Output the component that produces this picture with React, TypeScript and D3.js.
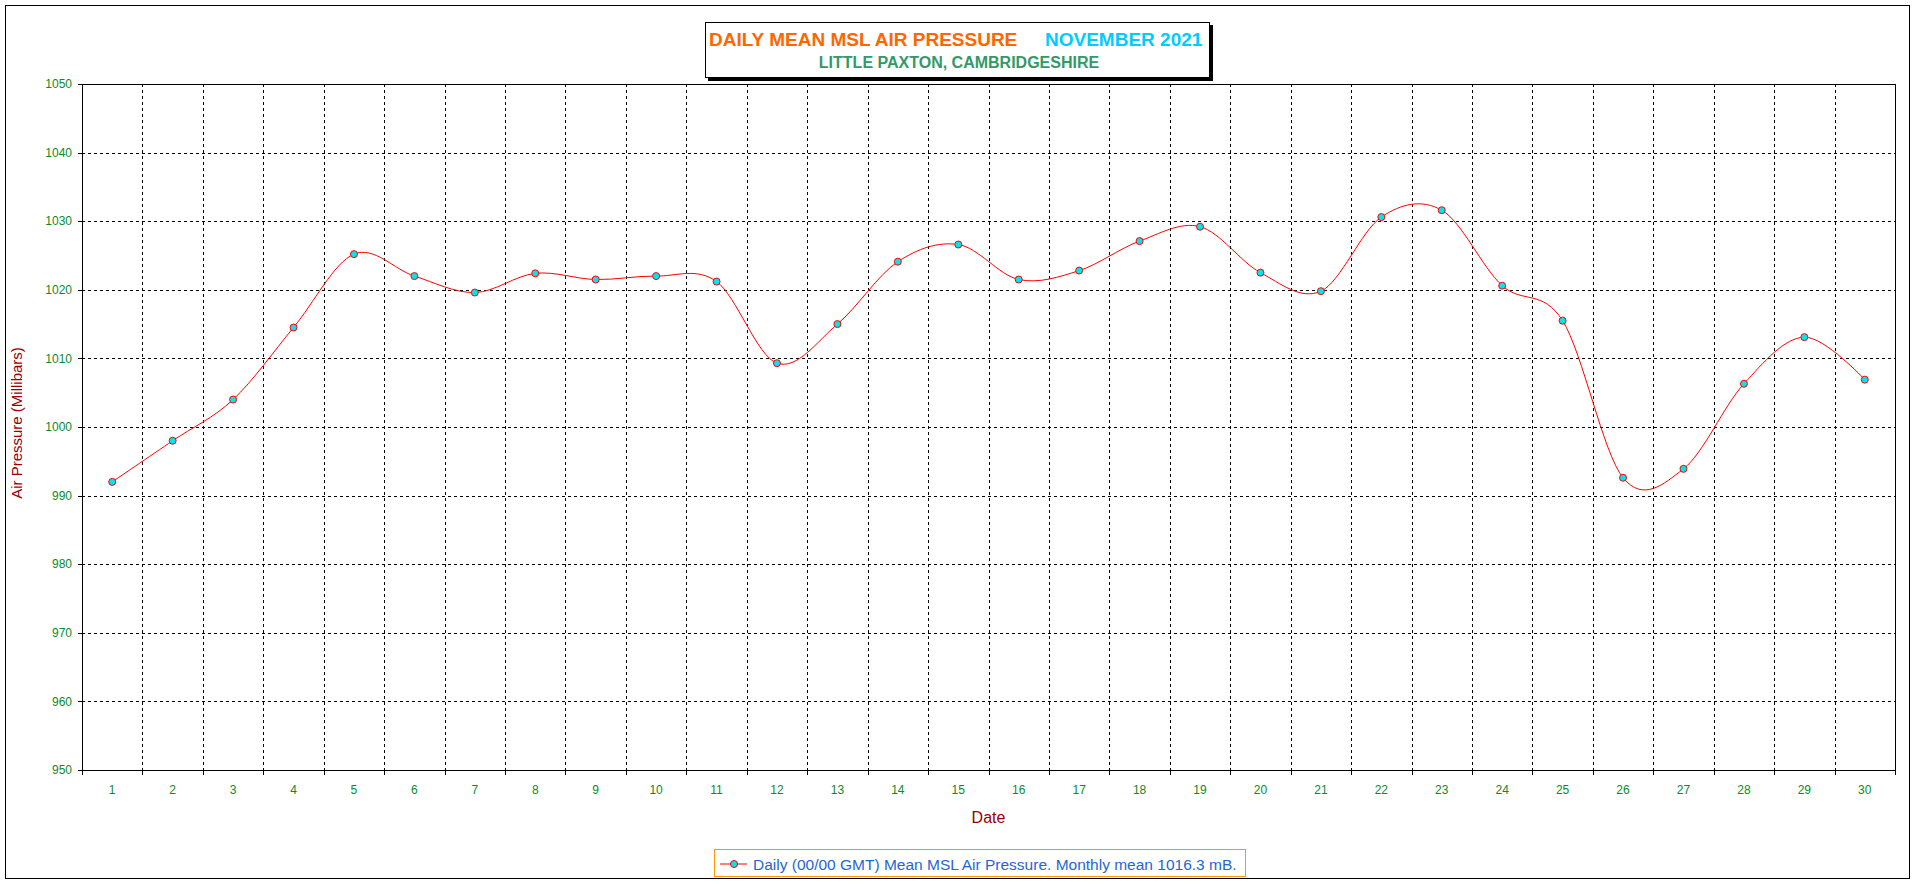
import React from "react";
import * as d3 from "d3";

const days: number[] = Array.from({ length: 30 }, (_, i) => i + 1);
const pressure: number[] = [
  992.0, 998.0, 1004.0, 1014.5, 1025.2, 1022.0, 1019.6, 1022.4, 1021.5, 1022.0,
  1021.2, 1009.3, 1015.0, 1024.1, 1026.6, 1021.5, 1022.8, 1027.1, 1029.2, 1022.5,
  1019.8, 1030.6, 1031.6, 1020.6, 1015.5, 992.6, 993.9, 1006.3, 1013.1, 1006.9,
];
const yTicks: number[] = [950, 960, 970, 980, 990, 1000, 1010, 1020, 1030, 1040, 1050];
const titleMain = "DAILY MEAN MSL AIR PRESSURE";
const titleMonth = "NOVEMBER 2021";
const subtitle = "LITTLE PAXTON, CAMBRIDGESHIRE";
const xTitle = "Date";
const yTitle = "Air Pressure (Millibars)";
const legendText = "Daily (00/00 GMT) Mean MSL Air Pressure. Monthly mean 1016.3 mB.";

const W = 1916;
const H = 884;
const PL = 82;
const PR = 1895;
const PT = 84;
const PB = 770;
const FONT = "Arial, 'Liberation Sans', sans-serif";
const TICK_COLOR = "#0a8a2a";
const AXIS_TITLE_COLOR = "#990000";

export default function App() {
  const x = d3.scaleLinear().domain([0.5, 30.5]).range([PL, PR]);
  const y = d3.scaleLinear().domain([950, 1050]).range([PB, PT]);
  const line = d3
    .line<number>()
    .x((_, i) => x(days[i]))
    .y((d) => y(d))
    .curve(d3.curveCatmullRom.alpha(0));
  const bounds = d3.range(1, 30).map((i) => i + 0.5);

  return (
    <svg
      width={W}
      height={H}
      style={{ position: "absolute", left: 0, top: 0, background: "#fff" }}
      fontFamily={FONT}
    >
      <rect x={0} y={0} width={W} height={H} fill="#fff" />
      <rect x={5.5} y={5.5} width={1904} height={873} fill="none" stroke="#000" strokeWidth={1} />

      {/* grid */}
      {yTicks
        .filter((t) => t !== 950 && t !== 1050)
        .map((t) => (
          <line
            key={"hg" + t}
            x1={PL}
            x2={PR}
            y1={Math.round(y(t)) + 0.5}
            y2={Math.round(y(t)) + 0.5}
            stroke="#000"
            strokeDasharray="3,3"
          />
        ))}
      {bounds.map((b) => (
        <line
          key={"vg" + b}
          x1={Math.round(x(b)) + 0.5}
          x2={Math.round(x(b)) + 0.5}
          y1={PT}
          y2={PB}
          stroke="#000"
          strokeDasharray="3,3"
        />
      ))}
      {/* plot border */}
      <rect x={PL + 0.5} y={PT + 0.5} width={PR - PL} height={PB - PT} fill="none" stroke="#000" strokeWidth={1} />

      {/* y ticks */}
      {yTicks.map((t) => (
        <g key={"yt" + t}>
          <line x1={PL - 4} x2={PL} y1={Math.round(y(t)) + 0.5} y2={Math.round(y(t)) + 0.5} stroke="#000" />
          <text x={PL - 10} y={y(t)} dy="0.35em" textAnchor="end" fontSize={12} fill={TICK_COLOR}>
            {t}
          </text>
        </g>
      ))}
      {/* x ticks */}
      {[0.5, ...bounds, 30.5].map((b) => (
        <line
          key={"xt" + b}
          x1={Math.round(x(b)) + 0.5}
          x2={Math.round(x(b)) + 0.5}
          y1={PB}
          y2={PB + 5}
          stroke="#000"
        />
      ))}
      {days.map((d) => (
        <text key={"xl" + d} x={x(d)} y={794} textAnchor="middle" fontSize={12} fill={TICK_COLOR}>
          {d}
        </text>
      ))}

      {/* axis titles */}
      <text x={(PL + PR) / 2} y={823} textAnchor="middle" fontSize={16} fill={AXIS_TITLE_COLOR}>
        {xTitle}
      </text>
      <text
        transform={`translate(22, 423) rotate(-90)`}
        textAnchor="middle"
        fontSize={15}
        fill={AXIS_TITLE_COLOR}
      >
        {yTitle}
      </text>

      {/* series */}
      <path d={line(pressure) || ""} fill="none" stroke="#ff0000" strokeWidth={1} />
      {pressure.map((v, i) => (
        <circle key={"pt" + i} cx={x(days[i])} cy={y(v)} r={3.5} fill="#00e5ee" stroke="#ff0000" strokeWidth={1} />
      ))}

      {/* title box */}
      <rect x={708} y={25} width={505} height={56} fill="#000" />
      <rect x={705.5} y={22.5} width={504} height={55} fill="#fff" stroke="#000" strokeWidth={1} />
      <text x={709} y={46} fontSize={19} fontWeight="bold" fill="#ff6600">
        {titleMain}
      </text>
      <text x={1045} y={46} fontSize={19} fontWeight="bold" fill="#00ccff">
        {titleMonth}
      </text>
      <text x={959} y={68} textAnchor="middle" fontSize={16} fontWeight="bold" fill="#339966">
        {subtitle}
      </text>

      {/* legend */}
      <rect x={714.5} y={849.5} width={531} height={27} fill="#fff" stroke="#ff9900" strokeWidth={1} />
      <line x1={720} x2={747} y1={864} y2={864} stroke="#ff0000" />
      <circle cx={734} cy={864} r={3.5} fill="#00e5ee" stroke="#ff0000" />
      <text x={753} y={869.5} fontSize={15.5} fill="#1f66d6">
        {legendText}
      </text>
    </svg>
  );
}
